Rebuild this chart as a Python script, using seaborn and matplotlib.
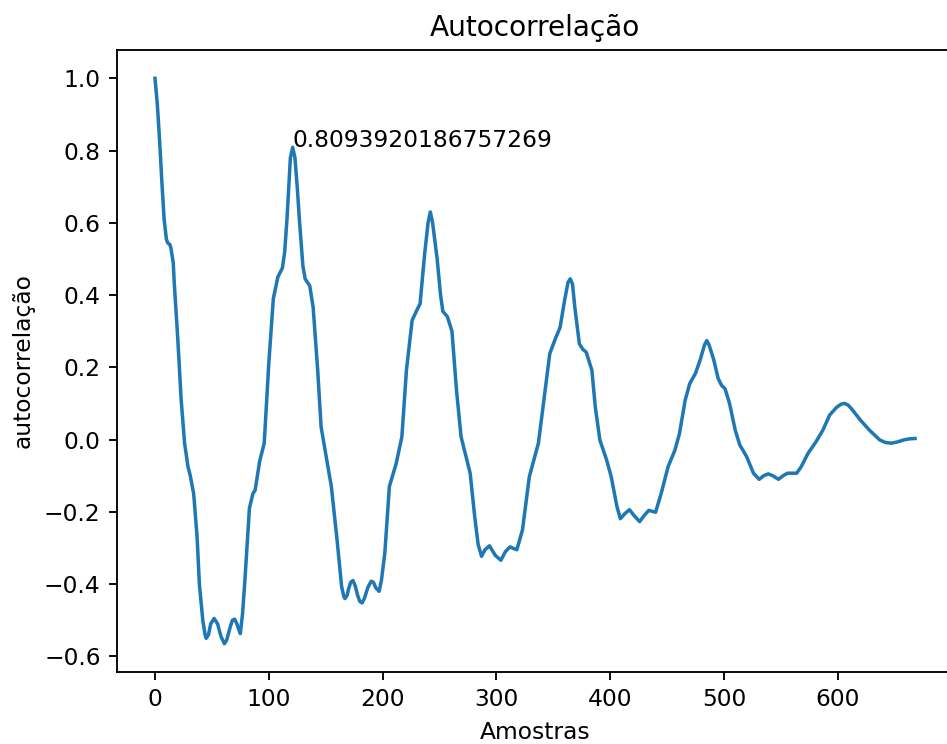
import matplotlib
matplotlib.use("Agg")
import matplotlib.pyplot as plt
import seaborn as sns
import pandas as pd

# Lag index (samples) and normalised autocorrelation values
lags = [
    0, 2, 4, 6, 8, 10, 11, 13, 14, 16, 17, 20, 23, 26, 29, 31, 34, 37, 39, 42,
    44, 45, 47, 49, 52, 55, 58, 61, 63, 66, 68, 70, 72, 73, 75, 77, 79, 83, 86,
    88, 92, 96, 100, 104, 108, 112, 114, 116, 119, 121, 123,
    125, 127, 130, 132, 134, 136, 139, 143, 146, 151, 155, 160, 164, 166, 167,
    169, 170, 172, 174, 176, 178, 180, 182, 184, 187, 190, 192, 194, 197, 199,
    202, 206, 212, 217, 221, 226, 230, 233, 237, 240, 242, 244,
    248, 251, 253, 257, 261, 265, 269, 277, 281, 284, 287, 290, 294, 299, 304,
    308, 312, 318, 323, 329, 337, 341, 347, 352, 356, 360, 363, 365, 367, 369,
    373, 376, 379, 384, 387, 391, 397, 401, 406, 409, 413, 417, 421, 426, 430,
    434, 440, 445, 451, 457, 461, 466, 470, 475, 479, 483, 485, 487, 491, 495,
    498, 501, 505, 510, 514, 520, 526, 531, 535, 539, 543, 548, 552, 556, 564,
    568, 574, 581, 587, 593, 599, 603, 606, 609, 612, 620, 628, 637, 642, 647,
    652, 658, 663, 668,
]
acf = [
    1.000, 0.930, 0.830, 0.715, 0.610, 0.555, 0.545, 0.540, 0.530, 0.490,
    0.430, 0.280, 0.110, -0.010, -0.075, -0.100, -0.150, -0.270, -0.400,
    -0.500, -0.540, -0.550, -0.540, -0.510, -0.495, -0.510, -0.545, -0.565,
    -0.555, -0.520, -0.500, -0.497, -0.510, -0.520, -0.537, -0.480, -0.390,
    -0.190, -0.150, -0.140, -0.060, -0.010, 0.210, 0.390, 0.450, 0.475,
    0.520, 0.610, 0.780, 0.809, 0.780,
    0.700, 0.605, 0.480, 0.445, 0.435, 0.426, 0.366, 0.192, 0.035, -0.057,
    -0.130, -0.277, -0.406, -0.435, -0.440, -0.430, -0.415, -0.395, -0.390,
    -0.405, -0.430, -0.448, -0.452, -0.440, -0.410, -0.392, -0.395, -0.410,
    -0.420, -0.390, -0.314, -0.130, -0.066, 0.008, 0.192, 0.330, 0.357,
    0.376, 0.514, 0.600, 0.630, 0.600,
    0.500, 0.400, 0.355, 0.340, 0.300, 0.137, 0.008, -0.093, -0.213, -0.290,
    -0.323, -0.305, -0.294, -0.320, -0.334, -0.310, -0.297, -0.305, -0.250,
    -0.103, -0.010, 0.090, 0.238, 0.280, 0.310, 0.385, 0.435, 0.445, 0.430,
    0.366, 0.265, 0.250, 0.242, 0.192, 0.090, -0.001, -0.057, -0.103,
    -0.185, -0.219, -0.205, -0.194, -0.210, -0.227, -0.210, -0.196, -0.201,
    -0.148, -0.075, -0.029, 0.017, 0.109, 0.155, 0.183, 0.219, 0.262, 0.274,
    0.262, 0.222, 0.169, 0.150, 0.141, 0.100, 0.026, -0.015, -0.047, -0.093,
    -0.110, -0.100, -0.095, -0.100, -0.110, -0.100, -0.093, -0.093, -0.075,
    -0.038, -0.006, 0.026, 0.068, 0.089, 0.098, 0.100, 0.096, 0.086, 0.054,
    0.026, -0.001, -0.008, -0.010, -0.007, -0.001, 0.002, 0.003,
]

peak_lag = 121
peak_value = 0.8093920186757269

df = pd.DataFrame({"lag": lags, "acf": acf})

fig = plt.figure(figsize=(947 / 168, 744 / 168), dpi=168)
ax = fig.add_axes([117 / 947, 72 / 744, 836 / 947, 622 / 744])

sns.lineplot(data=df, x="lag", y="acf", ax=ax, color="#1f77b4",
             linewidth=1.5, sort=True, estimator=None)

ax.text(peak_lag, peak_value, str(peak_value), fontsize=10)

ax.set_title("Autocorrelação")
ax.set_xlabel("Amostras")
ax.set_ylabel("autocorrelação")
ax.set_xticks([0, 100, 200, 300, 400, 500, 600])
ax.set_yticks([-0.6, -0.4, -0.2, 0.0, 0.2, 0.4, 0.6, 0.8, 1.0])
ax.spines["right"].set_visible(False)

fig.savefig("out.png", dpi=168)
